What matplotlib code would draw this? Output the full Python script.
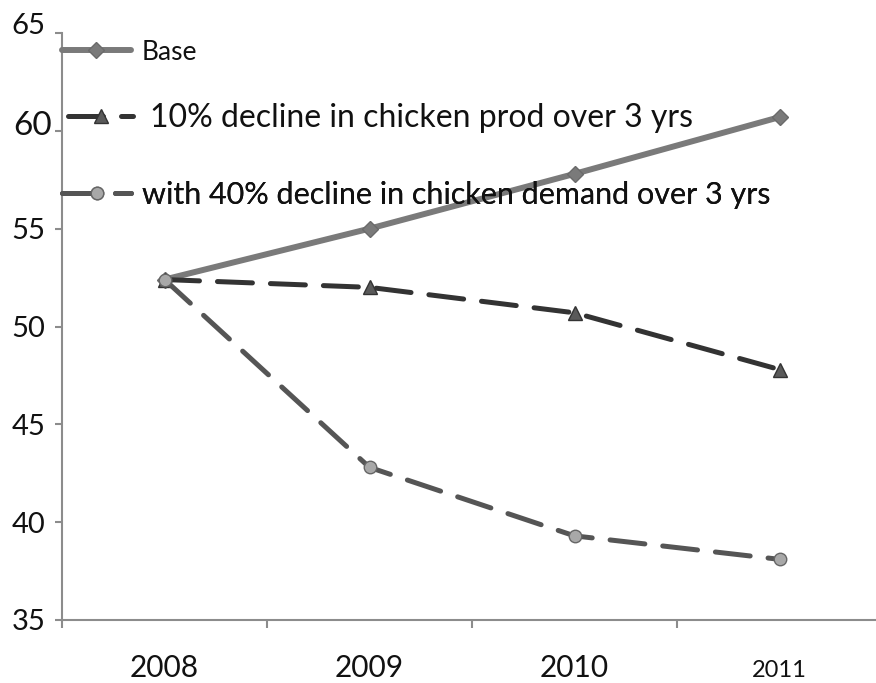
import matplotlib
matplotlib.use("Agg")
import matplotlib.pyplot as plt
from matplotlib.transforms import ScaledTranslation

plt.rcParams['font.family'] = ['Lato', 'DejaVu Sans']

years = ["2008", "2009", "2010", "2011"]
base = [52.4, 55.0, 57.8, 60.7]
prod_decline = [52.4, 52.0, 50.7, 47.8]
demand_decline = [52.4, 42.8, 39.3, 38.1]
series_labels = ["Base",
                 "10% decline in chicken prod over 3 yrs",
                 "with 40% decline in chicken demand over 3 yrs"]
y_ticks = [35, 40, 45, 50, 55, 60, 65]

fig = plt.figure(figsize=(8.76, 6.83), dpi=100)
ax = fig.add_axes([62/876, 1-620/683, 820/876, (620-33)/683])

x = list(range(len(years)))
lines = []
lines += ax.plot(x, base, color="#7a7a7a", lw=4.3, solid_capstyle="round",
                 marker="D", ms=8, mfc="#7a7a7a", mec="#6a6a6a", zorder=3)
lines += ax.plot(x, prod_decline, color="#333333", lw=3.6, dashes=(7, 3.6), dash_capstyle="round",
                 marker="^", ms=10, mfc="#5a5a5a", mec="#333333", mew=1, zorder=4)
lines += ax.plot(x, demand_decline, color="#555555", lw=3.6, dashes=(7, 3.6), dash_capstyle="round",
                 marker="o", ms=9, mfc="#a8a8a8", mec="#666666", mew=1, zorder=5)

ax.set_xlim(-0.5, 3.5)
ax.set_ylim(35, 65)

for side in ("top", "right"):
    ax.spines[side].set_visible(False)
for side in ("left", "bottom"):
    ax.spines[side].set_color("#8c8c8c")
    ax.spines[side].set_linewidth(1.5)

# y axis
ax.set_yticks(y_ticks)
ax.set_yticklabels([str(v) for v in y_ticks])
ax.tick_params(axis="y", length=5, width=1.5, color="#8c8c8c", pad=7, labelsize=21)
for t, lab in zip(ax.yaxis.get_major_ticks(), ax.get_yticklabels()):
    lab.set_color("#111111")
    if lab.get_text() == "60":
        lab.set_fontsize(24)
        t.set_pad(2)
        lab.set_transform(lab.get_transform() + ScaledTranslation(0, 8/100, fig.dpi_scale_trans))
    if lab.get_text() == "65":
        lab.set_transform(lab.get_transform() + ScaledTranslation(0, 10/100, fig.dpi_scale_trans))

# x axis: labels at category centres, ticks between categories
ax.set_xticks(x)
ax.set_xticklabels(years)
ax.set_xticks([-0.5, 0.5, 1.5, 2.5], minor=True)
ax.tick_params(axis="x", which="major", length=0, pad=41, labelsize=21.5)
ax.tick_params(axis="x", which="minor", length=6, width=1.5, color="#8c8c8c")
for lab in ax.get_xticklabels():
    lab.set_verticalalignment("baseline")
    lab.set_color("#111111")
ax.get_xticklabels()[-1].set_fontsize(17)

# one legend entry per row, each with its own size and placement
entries = [
    # (line, label, fontsize, anchor x (axes), anchor y (axes), handlelength, textpad)
    (lines[0], series_labels[0], 19, 0.0, (620-52)/587, 2.6, 0.42),
    (lines[1], series_labels[1], 23, 6/820, (620-118)/587, 2.04, 0.53),
    (lines[2], series_labels[2], 22, 0.0, (620-195)/587, 2.26, 0.36),
]
for ln, lbl, fs, ax_x, ax_y, hl, tp in entries:
    leg = ax.legend([ln], [lbl], loc="center left", bbox_to_anchor=(ax_x, ax_y),
                    frameon=False, handlelength=hl, handletextpad=tp,
                    borderaxespad=0, borderpad=0, fontsize=fs)
    for txt in leg.get_texts():
        txt.set_color("#111111")
    ax.add_artist(leg)

fig.savefig("out.png", dpi=100)
